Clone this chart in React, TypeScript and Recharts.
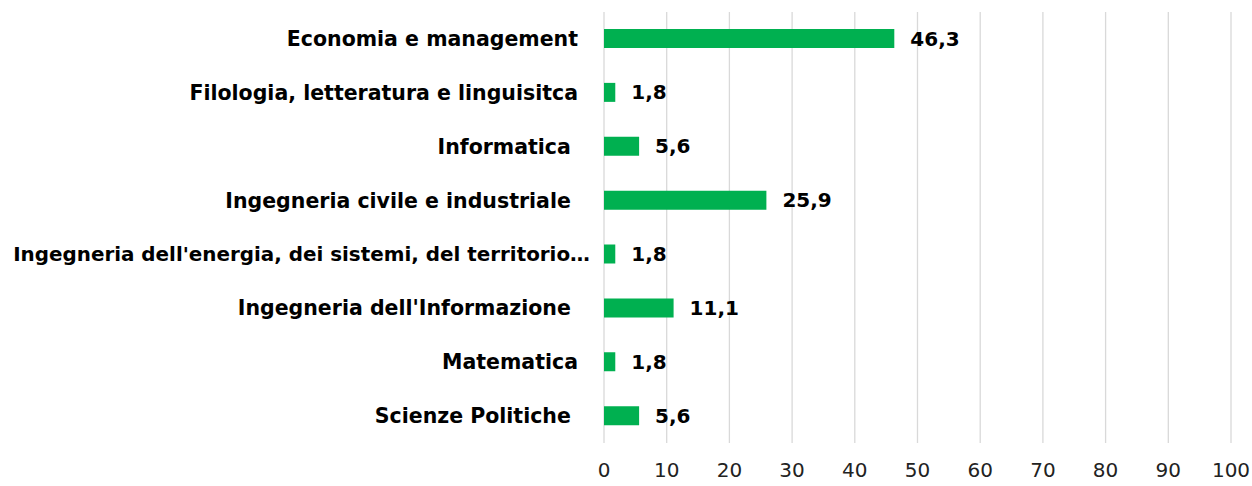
import React from 'react';
import { BarChart, Bar, XAxis, YAxis, CartesianGrid, LabelList } from 'recharts';

const categories = [
  'Economia e management',
  'Filologia, letteratura e linguisitca',
  'Informatica ',
  'Ingegneria civile e industriale ',
  "Ingegneria dell'energia, dei sistemi, del territorio…",
  "Ingegneria dell'Informazione ",
  'Matematica',
  'Scienze Politiche ',
];
const values = [46.3, 1.8, 5.6, 25.9, 1.8, 11.1, 1.8, 5.6];
const xTicks = [0, 10, 20, 30, 40, 50, 60, 70, 80, 90, 100];

const data = categories.map((name, i) => ({ name, value: values[i] }));

const FONT = "'DejaVu Sans', sans-serif";

const YTick = (props: any) => {
  const { x, y, payload } = props;
  const v: string = payload.value;
  const truncated = v.endsWith('…');
  return (
    <text
      x={x + (truncated ? 12 : 0)}
      y={y}
      textAnchor="end"
      dominantBaseline="central"
      fontFamily={FONT}
      fontWeight="bold"
      fontSize={truncated ? 19.9 : 20.5}
      fill="#000"
      style={{ whiteSpace: 'pre' }}
    >
      {v}
    </text>
  );
};

const fmt = (v: any) => Number(v).toFixed(1).replace('.', ',');

export default function App() {
  return (
    <div style={{ width: 1252, height: 486 }}>
      <style>{`body{margin:0}`}</style>
      <BarChart
        width={1252}
        height={486}
        data={data}
        layout="vertical"
        margin={{ top: 12, right: 21, bottom: 0, left: 0 }}
        barCategoryGap={0}
      >
        <CartesianGrid horizontal={false} vertical={true} stroke="#d9d9d9" strokeWidth={1.3} />
        <XAxis
          type="number"
          domain={[0, 100]}
          ticks={xTicks}
          interval={0}
          axisLine={false}
          tickLine={false}
          tickMargin={14}
          height={43}
          tick={{ fontFamily: FONT, fontSize: 20, fill: '#222' }}
        />
        <YAxis
          type="category"
          dataKey="name"
          width={604}
          axisLine={false}
          tickLine={false}
          tickMargin={20}
          interval={0}
          tick={<YTick />}
        />
        <Bar dataKey="value" fill="#00B050" barSize={19} isAnimationActive={false}>
          <LabelList
            dataKey="value"
            position="right"
            offset={16}
            formatter={fmt}
            style={{ fontFamily: FONT, fontWeight: 'bold', fontSize: 20, fill: '#000' }}
          />
        </Bar>
      </BarChart>
    </div>
  );
}
